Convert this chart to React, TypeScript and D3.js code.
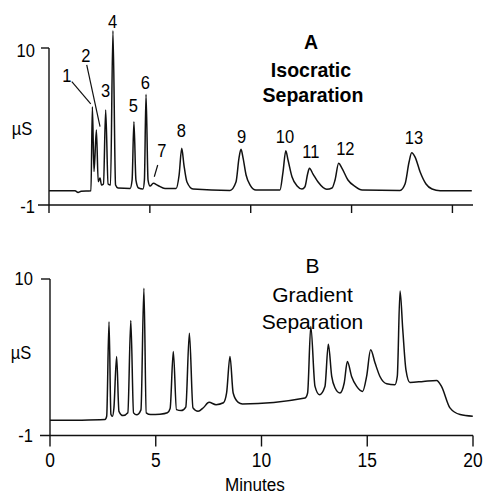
import React from "react";
import * as d3 from "d3";

// Conductivity traces (minutes, µS)
const isocraticTrace: [number, number][] = [
  [0, 0], [1.29, 0], [1.44, -0.12], [1.59, -0.04], [2.08, 0],
  [2.15, 5.89], [2.23, 1.34], [2.35, 4.26], [2.44, 0.63], [2.53, 0.89],
  [2.6, 0.4], [2.7, 0.47], [2.81, 5.66], [2.93, 0.47], [3.05, 0.4],
  [3.17, 11.2], [3.3, 0.4], [3.42, 0.19], [4.02, 0.16], [4.12, 0.75],
  [4.21, 4.84], [4.31, 0.75], [4.44, 0.19], [4.66, 0.12], [4.73, 0.75],
  [4.81, 6.76], [4.91, 0.75], [5.01, 0.33], [5.17, 0.52], [5.4, 0.37],
  [5.75, 0.16], [6.3, 0.16], [6.45, 1.1], [6.58, 2.97], [6.69, 1.8],
  [6.84, 0.61], [7.14, 0.12], [8.97, 0.02], [9.27, 0.61], [9.42, 2.3],
  [9.52, 2.9], [9.62, 2.3], [9.77, 1.1], [9.97, 0.4], [10.26, 0.05],
  [11.45, 0.05], [11.6, 1.31], [11.74, 2.8], [11.85, 2.15], [12.05, 0.96],
  [12.3, 0.33], [12.54, 0.12], [12.69, 0.28], [12.82, 1.17], [12.91, 1.57],
  [13.09, 1.17], [13.34, 0.61], [13.77, 0.1], [14.03, 0.19], [14.18, 0.75],
  [14.36, 1.92], [14.52, 1.59], [14.82, 0.75], [15.17, 0.3], [15.52, 0.05],
  [17.4, 0.02], [17.65, 0.47], [17.85, 2.01], [17.98, 2.66], [18.15, 2.36],
  [18.4, 1.31], [18.69, 0.47], [18.99, 0.12], [19.39, 0], [20.96, 0],
];

const gradientTrace: [number, number][] = [
  [0, 0.07], [1.5, 0.08], [2.6, 0.12], [2.68, 0.35], [2.79, 7.0],
  [2.88, 0.5], [2.95, 0.35], [3.02, 0.9], [3.15, 4.55], [3.26, 0.7],
  [3.45, 0.4], [3.68, 0.6], [3.82, 7.08], [3.95, 0.59], [4.1, 0.45],
  [4.3, 0.8], [4.44, 9.35], [4.55, 0.59], [4.76, 0.47], [5.2, 0.5],
  [5.55, 0.6], [5.68, 0.9], [5.83, 4.9], [5.98, 0.82], [6.2, 0.75],
  [6.42, 1.0], [6.59, 6.19], [6.76, 0.94], [7.0, 0.7], [7.25, 0.95],
  [7.52, 1.33], [7.85, 1.17], [8.2, 1.3], [8.35, 1.99], [8.51, 4.56],
  [8.66, 1.99], [8.9, 1.33], [9.1, 1.22], [12.06, 1.64], [12.18, 1.99],
  [12.33, 6.66], [12.53, 2.45], [12.74, 1.87], [13.0, 2.45], [13.16, 5.42],
  [13.32, 3.15], [13.48, 2.34], [13.71, 1.99], [13.91, 2.69], [14.06, 4.2],
  [14.26, 3.15], [14.5, 2.45], [14.78, 2.1], [14.97, 3.15], [15.16, 5.02],
  [15.37, 4.09], [15.6, 3.15], [15.92, 2.64], [16.31, 2.57], [16.42, 3.15],
  [16.55, 9.16], [16.68, 6.43], [16.83, 3.62], [17.02, 2.73], [17.65, 2.8],
  [18.28, 2.87], [18.51, 2.45], [18.91, 0.94], [19.39, 0.47], [19.99, 0.35],
];

// Peak numbering for the isocratic run (label anchor in minutes / µS)
const peakIds = ["1", "2", "3", "4", "5", "6", "7", "8", "9", "10", "11", "12", "13"];
const peakLabelTimes = [0.88, 1.83, 2.8, 3.15, 4.18, 4.78, 5.6, 6.56, 9.55, 11.7, 12.98, 14.69, 18.09];
const peakLabelValues = [7.62, 9.02, 6.59, 11.38, 5.52, 7.13, 2.38, 3.79, 3.34, 3.34, 2.29, 2.5, 3.27];

// Leader lines from labels to crowded peaks: [t0, v0, t1, v1]
const leaderLines: [number, number, number, number][] = [
  [1.13, 7.64, 2.07, 6.08],
  [1.87, 8.81, 2.53, 4.49],
  [5.39, 1.8, 5.22, 0.98],
];

const timeTicks = [0, 5, 10, 15, 20];
const signalTicks = [-1, 10];

const FONT = "'Liberation Sans', Arial, Helvetica, sans-serif";

export default function App() {
  const xA = d3.scaleLinear().domain([0, 21]).range([49, 472.6]);
  const yA = d3.scaleLinear().domain([-1, 10]).range([205, 48]);
  const xB = d3.scaleLinear().domain([0, 20]).range([50, 473]);
  const yB = d3.scaleLinear().domain([-1, 10]).range([435.5, 279]);

  const lineA = d3
    .line<[number, number]>()
    .x((d) => xA(d[0]))
    .y((d) => yA(d[1]))
    .curve(d3.curveMonotoneX);
  const lineB = d3
    .line<[number, number]>()
    .x((d) => xB(d[0]))
    .y((d) => yB(d[1]))
    .curve(d3.curveMonotoneX);

  const narrow = (x: number, y: number, s = 0.87) => `translate(${x},${y}) scale(${s},1)`;
  const axisStroke = { stroke: "#111", strokeWidth: 1.4, fill: "none" };

  return (
    <svg
      width={483}
      height={496}
      style={{ position: "absolute", left: 0, top: 0, background: "#fff" }}
      fontFamily={FONT}
    >
      <rect width={483} height={496} fill="#fff" />

      {/* Panel A: isocratic */}
      <g>
        <line x1={38} x2={473} y1={yA(-1)} y2={yA(-1)} {...axisStroke} />
        <line x1={xA(0)} x2={xA(0)} y1={yA(10)} y2={yA(-1) + 8} {...axisStroke} />
        <line x1={41} x2={xA(0)} y1={yA(10)} y2={yA(10)} {...axisStroke} />
        {timeTicks.slice(1).map((t) => (
          <line key={t} x1={xA(t)} x2={xA(t)} y1={yA(-1)} y2={yA(-1) + 8} {...axisStroke} />
        ))}
        {signalTicks.map((v) => (
          <text key={v} transform={narrow(35, yA(v) + (v === 10 ? 9 : 8))} textAnchor="end" fontSize={19}>
            {v}
          </text>
        ))}
        <text transform={narrow(22, 135)} textAnchor="middle" fontSize={19}>µS</text>

        <path d={lineA(isocraticTrace) ?? ""} fill="none" stroke="#111" strokeWidth={1.5} strokeLinejoin="round" />

        {leaderLines.map(([t0, v0, t1, v1], i) => (
          <line key={i} x1={xA(t0)} y1={yA(v0)} x2={xA(t1)} y2={yA(v1)} stroke="#111" strokeWidth={1.2} />
        ))}
        {peakIds.map((id, i) => (
          <text
            key={id}
            transform={narrow(xA(peakLabelTimes[i]), yA(peakLabelValues[i]))}
            textAnchor="middle"
            fontSize={19}
          >
            {id}
          </text>
        ))}

        <text transform={narrow(311, 49, 0.93)} textAnchor="middle" fontSize={21} fontWeight="bold">A</text>
        <text transform={narrow(311, 77, 0.93)} textAnchor="middle" fontSize={21} fontWeight="bold">Isocratic</text>
        <text transform={narrow(313, 102, 0.93)} textAnchor="middle" fontSize={21} fontWeight="bold">Separation</text>
      </g>

      {/* Panel B: gradient */}
      <g>
        <line x1={40} x2={473} y1={yB(-1)} y2={yB(-1)} {...axisStroke} />
        <line x1={xB(0)} x2={xB(0)} y1={yB(10)} y2={yB(-1) + 11} {...axisStroke} />
        <line x1={41} x2={xB(0)} y1={yB(10)} y2={yB(10)} {...axisStroke} />
        {timeTicks.slice(1).map((t) => (
          <line key={t} x1={xB(t)} x2={xB(t)} y1={yB(-1)} y2={yB(-1) + 11} {...axisStroke} />
        ))}
        {timeTicks.map((t) => (
          <text key={t} transform={narrow(xB(t), 467)} textAnchor="middle" fontSize={20}>
            {t}
          </text>
        ))}
        {signalTicks.map((v) => (
          <text key={v} transform={narrow(33, yB(v) + 6)} textAnchor="end" fontSize={19}>
            {v}
          </text>
        ))}
        <text transform={narrow(21, 359)} textAnchor="middle" fontSize={19}>µS</text>

        <path d={lineB(gradientTrace) ?? ""} fill="none" stroke="#111" strokeWidth={1.5} strokeLinejoin="round" />

        <text x={312.5} y={273} textAnchor="middle" fontSize={21}>B</text>
        <text x={312.5} y={302} textAnchor="middle" fontSize={21}>Gradient</text>
        <text x={312.5} y={329} textAnchor="middle" fontSize={21}>Separation</text>

        <text transform={narrow(255, 491, 0.9)} textAnchor="middle" fontSize={19}>Minutes</text>
      </g>
    </svg>
  );
}
